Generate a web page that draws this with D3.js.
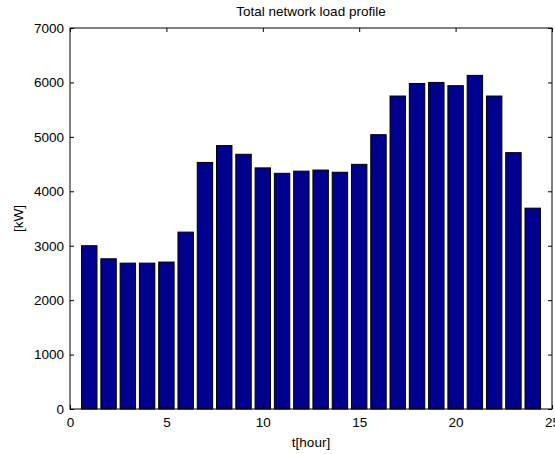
<!DOCTYPE html>
<html>
<head>
<meta charset="utf-8">
<script src="https://cdn.jsdelivr.net/npm/d3@7"></script>
<style>
  html, body { margin: 0; padding: 0; background: #fff; }
  svg text { font-family: "Liberation Sans", Arial, Helvetica, sans-serif; fill: #000; }
</style>
</head>
<body>
<svg id="chart" width="555" height="454"></svg>
<script>
// Hourly total network load, kW
const hours = [1, 2, 3, 4, 5, 6, 7, 8, 9, 10, 11, 12, 13, 14, 15, 16, 17, 18, 19, 20, 21, 22, 23, 24];
const loadKW = [3000, 2760, 2680, 2680, 2700, 3250, 4530, 4840, 4680, 4430, 4330, 4370,
                4390, 4350, 4495, 5040, 5750, 5980, 6000, 5940, 6130, 5750, 4710, 3690];
const xTicks = [0, 5, 10, 15, 20, 25];
const yTicks = [0, 1000, 2000, 3000, 4000, 5000, 6000, 7000];

const titleText = "Total network load profile";
const xLabelText = "t[hour]";
const yLabelText = "[kW]";

const svg = d3.select("#chart");
const plotL = 70, plotR = 552, plotT = 28, plotB = 409;
const fontSize = 13.5;
const tickLen = 4;
const barWidth = 0.8;

const x = d3.scaleLinear().domain([0, 25]).range([plotL, plotR]);
const y = d3.scaleLinear().domain([0, 7000]).range([plotB, plotT]);

// Bars
svg.append("g")
  .selectAll("rect")
  .data(hours.map((h, i) => ({ h, v: loadKW[i] })))
  .join("rect")
  .attr("x", d => x(d.h - barWidth / 2))
  .attr("width", d => x(d.h + barWidth / 2) - x(d.h - barWidth / 2))
  .attr("y", d => y(d.v))
  .attr("height", d => y(0) - y(d.v))
  .attr("fill", "#00008f")
  .attr("stroke", "#000")
  .attr("stroke-width", 1);

// Axes with inward ticks on all four sides
const axisStyle = g => {
  g.selectAll(".domain").remove();
  g.selectAll("line").attr("stroke", "#000");
  g.selectAll("text").attr("font-size", fontSize);
};

svg.append("g")
  .attr("transform", `translate(0,${plotB})`)
  .call(d3.axisBottom(x).tickValues(xTicks).tickFormat(d3.format("d"))
        .tickSizeInner(-tickLen).tickPadding(8))
  .call(axisStyle)
  .call(g => g.selectAll("text").attr("dy", "0.71em"));

svg.append("g")
  .attr("transform", `translate(0,${plotT})`)
  .call(d3.axisTop(x).tickValues(xTicks).tickFormat("").tickSizeInner(-tickLen))
  .call(axisStyle);

svg.append("g")
  .attr("transform", `translate(${plotL},0)`)
  .call(d3.axisLeft(y).tickValues(yTicks).tickFormat(d3.format("d"))
        .tickSizeInner(-tickLen).tickPadding(6))
  .call(axisStyle);

svg.append("g")
  .attr("transform", `translate(${plotR},0)`)
  .call(d3.axisRight(y).tickValues(yTicks).tickFormat("").tickSizeInner(-tickLen))
  .call(axisStyle);

// Frame
svg.append("rect")
  .attr("x", plotL).attr("y", plotT)
  .attr("width", plotR - plotL).attr("height", plotB - plotT)
  .attr("fill", "none").attr("stroke", "#000").attr("stroke-width", 1);

// Title and axis labels
svg.append("text")
  .attr("x", (plotL + plotR) / 2).attr("y", 15.5)
  .attr("text-anchor", "middle").attr("font-size", fontSize)
  .text(titleText);

svg.append("text")
  .attr("x", (plotL + plotR) / 2).attr("y", 447)
  .attr("text-anchor", "middle").attr("font-size", fontSize)
  .text(xLabelText);

svg.append("text")
  .attr("transform", `translate(23,${(plotT + plotB) / 2}) rotate(-90)`)
  .attr("text-anchor", "middle").attr("font-size", fontSize)
  .text(yLabelText);
</script>
</body>
</html>
